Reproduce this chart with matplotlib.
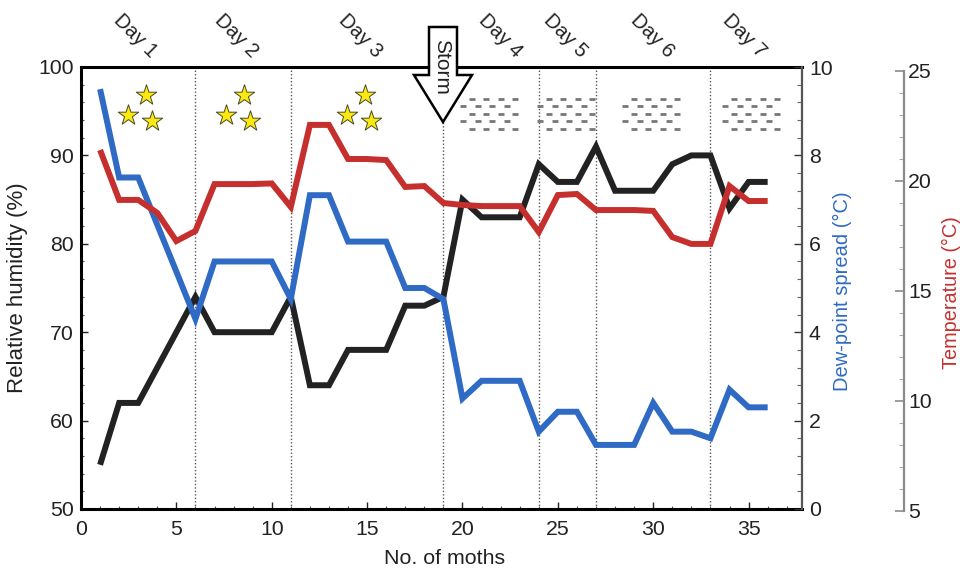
#!/usr/bin/env python3
"""Moth counts vs humidity, dew-point spread and temperature, recreated"""

import numpy as np
import matplotlib
matplotlib.use('Agg')
import matplotlib.pyplot as plt
from matplotlib.patches import Polygon
from matplotlib.ticker import MultipleLocator

plt.rcParams['font.family'] = ['Liberation Sans', 'DejaVu Sans']

moths = list(range(1, 37))
humidity = [55, 62, 62, 66, 70, 74, 70, 70, 70, 70, 74, 64, 64, 68, 68, 68, 73, 73,
            74, 85, 83, 83, 83, 89, 87, 87, 91, 86, 86, 86, 89, 90, 90, 84, 87, 87]
dew_spread = [9.5, 7.5, 7.5, 6.43, 5.37, 4.3, 5.6, 5.6, 5.6, 5.6, 4.75, 7.1, 7.1, 6.05,
              6.05, 6.05, 5.0, 5.0, 4.75, 2.5, 2.9, 2.9, 2.9, 1.75, 2.2, 2.2, 1.45, 1.45,
              1.45, 2.4, 1.75, 1.75, 1.6, 2.7, 2.3, 2.3]
temperature = [21.41, 19.14, 19.14, 18.55, 17.27, 17.73, 19.86, 19.86, 19.86, 19.89, 18.82, 22.55,
               22.55, 21.0, 21.0, 20.95, 19.73, 19.77, 19.0, 18.91, 18.86, 18.86, 18.86, 17.68,
               19.36, 19.41, 18.68, 18.68, 18.68, 18.64, 17.45, 17.14, 17.14, 19.77, 19.09, 19.09]

day_bounds = [6, 11, 19, 24, 27, 33]
day_labels = ['Day 1', 'Day 2', 'Day 3', 'Day 4', 'Day 5', 'Day 6', 'Day 7']
day_label_px = [(135, 36), (236, 36), (360, 36), (500, 36), (565, 36), (652, 36), (744, 36)]
star_groups_px = [146, 244, 365]
fog_blocks_px = [460, 537, 622, 722]

W, H = 960, 572
RED = '#c5302f'
BLUE = '#2f6bc4'
BLACK = '#222222'
GREY = '#8a8a8a'
TEXT = '#222222'
TICK_SIZE = 15.3


def main():
    fig = plt.figure(figsize=(W / 100, H / 100), dpi=100)
    ax = fig.add_axes([81 / W, 1 - 509 / H, 721 / W, 442 / H])
    ax_dew = ax.twinx()
    # temperature scale sits a little lower than the other two in the original
    ax_temp = fig.add_axes([81 / W, 1 - 511 / H, 721 / W, 440 / H], zorder=3)

    line_kw = dict(linewidth=4.3, solid_joinstyle='miter', solid_capstyle='butt')

    ax.set_xlim(0.09, 37.8)
    ax.set_ylim(50, 100)
    ax.plot(moths, humidity, color=BLACK, zorder=3, **line_kw)
    for x in day_bounds:
        ax.plot([x, x], [50, 100], color='#555555', linewidth=1.0, linestyle=(0, (1, 1.5)), zorder=1)
    ax.set_xticks([0, 5, 10, 15, 20, 25, 30, 35])
    ax.xaxis.set_minor_locator(MultipleLocator(1))
    ax.yaxis.set_major_locator(MultipleLocator(10))
    ax.yaxis.set_minor_locator(MultipleLocator(2))
    ax.tick_params(axis='both', which='major', direction='in', length=5, width=1,
                   labelsize=TICK_SIZE, labelcolor=TEXT, color='#222222')
    ax.tick_params(axis='both', which='minor', direction='in', length=2.5, width=0.8, color='#555555')
    ax.tick_params(axis='x', pad=8)
    ax.tick_params(axis='y', pad=5)
    ax.spines['left'].set_linewidth(2.2)
    ax.spines['bottom'].set_linewidth(2.2)
    ax.spines['top'].set_linewidth(2.2)
    ax.spines['right'].set_visible(False)

    ax_dew.set_ylim(0, 10)
    ax_dew.plot(moths, dew_spread, color=BLUE, zorder=4, **line_kw)
    ax_dew.yaxis.set_major_locator(MultipleLocator(2))
    ax_dew.yaxis.set_minor_locator(MultipleLocator(0.4))
    ax_dew.tick_params(axis='y', which='major', direction='in', length=6, width=1,
                       labelsize=TICK_SIZE, labelcolor=TEXT, color='#333333', pad=5)
    ax_dew.tick_params(axis='y', which='minor', direction='in', length=3.5, width=0.8, color='#666666')
    ax_dew.spines['right'].set_linewidth(1.6)
    ax_dew.spines['right'].set_color('#555555')
    for side in ('top', 'left', 'bottom'):
        ax_dew.spines[side].set_visible(False)

    ax_temp.set_xlim(ax.get_xlim())
    ax_temp.set_ylim(5, 25)
    ax_temp.plot(moths, temperature, color=RED, zorder=5, **line_kw)
    ax_temp.xaxis.set_visible(False)
    ax_temp.yaxis.tick_right()
    ax_temp.yaxis.set_major_locator(MultipleLocator(5))
    ax_temp.yaxis.set_minor_locator(MultipleLocator(1))
    ax_temp.spines['right'].set_position(('outward', 102 * 72 / 100))
    ax_temp.spines['right'].set_color(GREY)
    ax_temp.spines['right'].set_linewidth(1.6)
    for side in ('top', 'left', 'bottom'):
        ax_temp.spines[side].set_visible(False)
    ax_temp.tick_params(axis='y', which='major', direction='in', length=6.5, width=1.2,
                        color=GREY, labelcolor=TEXT, labelsize=TICK_SIZE, pad=3)
    ax_temp.tick_params(axis='y', which='minor', direction='in', length=3.4, width=0.8, color='#aaaaaa')
    ax_temp.patch.set_visible(False)

    overlay = fig.add_axes([0, 0, 1, 1], zorder=10)
    overlay.set_xlim(0, W)
    overlay.set_ylim(H, 0)
    overlay.axis('off')

    # stars above the first three days
    for sx in star_groups_px:
        overlay.scatter([sx, sx - 18, sx + 6], [95, 115, 121], marker='*', s=240,
                        facecolor='#fbe90f', edgecolor='#4a4a2a', linewidth=0.7)

    # rows of short dashes for the foggy days
    for bx in fog_blocks_px:
        for row, fy in enumerate([99, 106, 114, 121, 129]):
            shift = 8.5 if row % 2 == 0 else 0
            for k in range(4):
                dx = bx + shift + k * 14.6
                overlay.plot([dx, dx + 6], [fy, fy], color='#777777', linewidth=2.0,
                             solid_capstyle='butt')

    # storm arrow
    arrow = [(429, 27), (457, 27), (457, 75), (472, 75), (443, 122), (414, 75), (429, 75)]
    overlay.add_patch(Polygon(arrow, closed=True, facecolor='white', edgecolor='black', linewidth=1.8))
    overlay.text(442, 67, 'Storm', rotation=-90, ha='center', va='center', fontsize=15, color=TEXT)

    for label, (lx, ly) in zip(day_labels, day_label_px):
        overlay.text(lx, ly, label, rotation=-45, ha='center', va='center', fontsize=14.5,
                     color=TEXT, rotation_mode='anchor')

    overlay.text(445, 559, 'No. of moths', ha='center', va='center', fontsize=15.4, color=TEXT)
    overlay.text(18, 288, 'Relative humidity (%)', rotation=90, ha='center', va='center',
                 fontsize=16, color=TEXT)
    overlay.text(842, 291, 'Dew-point spread (°C)', rotation=90, ha='center', va='center',
                 fontsize=14.5, color=BLUE)
    overlay.text(951, 293, 'Temperature (°C)', rotation=90, ha='center', va='center',
                 fontsize=14.3, color=RED)

    fig.savefig('out.png', dpi=100, facecolor='white')


if __name__ == '__main__':
    main()
